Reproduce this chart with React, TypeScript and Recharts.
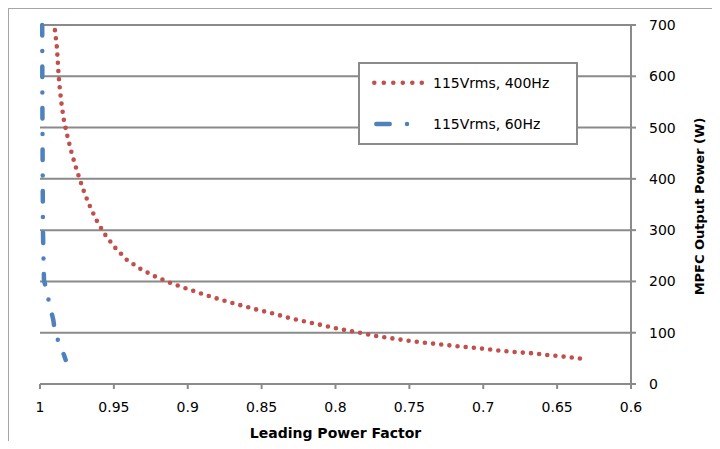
import { LineChart, Line, XAxis, YAxis, CartesianGrid, Legend, Label } from "recharts";

// 115Vrms, 400Hz – leading power factor vs. output power
const redPf = [0.9899, 0.9887, 0.988, 0.9874, 0.9865, 0.9853, 0.9838, 0.9816, 0.9791, 0.9762, 0.973, 0.9696, 0.9657, 0.961, 0.9554, 0.9489, 0.9412, 0.9318, 0.9216, 0.9108, 0.8998, 0.8885, 0.8772, 0.866, 0.8545, 0.843, 0.8316, 0.8201, 0.8086, 0.7971, 0.7853, 0.7735, 0.7617, 0.75, 0.738, 0.7264, 0.7144, 0.7025, 0.6907, 0.6789, 0.6669, 0.6549, 0.6432, 0.6311];
const redPower = [690, 661, 631, 602, 573, 543, 514, 485, 456, 427, 398, 370, 343, 315, 289, 265, 242, 224, 209, 196, 185, 174, 164, 155, 146, 138, 129, 121.5, 114.5, 107, 101, 94, 89, 84, 80, 76.5, 72.7, 69.6, 65.7, 62.4, 60, 56, 52.7, 48.7];

// 115Vrms, 60Hz
const bluePf = [0.9985, 0.9984, 0.9982, 0.998, 0.9976, 0.9973, 0.9953, 0.9932, 0.991, 0.9897, 0.9858, 0.9826];
const bluePower = [700, 560, 420, 300, 240, 203, 178, 151, 125, 97.5, 72.7, 47];

const xTicks = [1, 0.95, 0.9, 0.85, 0.8, 0.75, 0.7, 0.65, 0.6];
const yTicks = [0, 100, 200, 300, 400, 500, 600, 700];

const RED = "#C0504D";
const BLUE = "#4F81BD";
const GRID = "#8a8a8a";

const redData = redPf.map((pf, i) => ({ pf, power: redPower[i] }));
const blueData = bluePf.map((pf, i) => ({ pf, power: bluePower[i] }));

function LegendBox({ payload }: any) {
  const items = payload || [];
  return (
    <svg width={220} height={83}>
      <rect x={1} y={1} width={218} height={81} fill="#fff" stroke={GRID} strokeWidth={2} />
      {items.map((it: any, i: number) => {
        const y = i === 0 ? 20.7 : 62;
        const red = it.color === RED;
        return (
          <g key={i}>
            {red ? (
              <line x1={16.3} x2={64} y1={y} y2={y} stroke={it.color} strokeWidth={4.6}
                    strokeDasharray="0 9.5" strokeLinecap="round" />
            ) : (
              <line x1={18.3} x2={49.5} y1={y} y2={y} stroke={it.color} strokeWidth={4.5}
                    strokeDasharray="13.4 17.3 0 100" strokeLinecap="round" />
            )}
            <text x={75} y={y} dominantBaseline="central" fontSize={14} fill="#000">{it.value}</text>
          </g>
        );
      })}
    </svg>
  );
}

export default function App() {
  return (
    <div style={{ position: "relative", width: 709, height: 433, boxSizing: "border-box",
                  borderTop: "1px solid #a6a6a6", borderLeft: "1px solid #a6a6a6",
                  borderRight: "1px solid #a6a6a6", fontFamily: "DejaVu Sans", background: "#fff" }}>
      <LineChart width={707} height={432} margin={{ top: 16, right: 25, bottom: 27, left: 31 }}>
        <CartesianGrid vertical={false} stroke={GRID} strokeWidth={2} />
        <XAxis type="number" dataKey="pf" domain={[0.6, 1]} reversed ticks={xTicks} allowDataOverflow
               height={30} tickSize={5} tickMargin={13} interval={0}
               axisLine={{ stroke: GRID, strokeWidth: 2 }} tickLine={{ stroke: GRID, strokeWidth: 2 }}
               tick={{ fill: "#000", fontSize: 14 }}>
          <Label content={(p: any) => {
            const vb = p.viewBox || { x: 31, y: 375, width: 591, height: 30 };
            return (
              <text x={vb.x + vb.width / 2} y={vb.y + 49} textAnchor="middle" dominantBaseline="central"
                    fontSize={14} fontWeight="bold" fill="#000">Leading Power Factor</text>
            );
          }} />
        </XAxis>
        <YAxis type="number" orientation="right" domain={[0, 700]} ticks={yTicks} width={60}
               tickSize={5} tickMargin={13} interval={0}
               axisLine={{ stroke: GRID, strokeWidth: 2 }} tickLine={{ stroke: GRID, strokeWidth: 2 }}
               tick={{ fill: "#000", fontSize: 14, textAnchor: "start" }}>
          <Label content={(p: any) => {
            const vb = p.viewBox || { x: 622, y: 16, width: 60, height: 359 };
            const cx = vb.x + 68;
            const cy = vb.y + vb.height / 2 + 2;
            return (
              <text x={cx} y={cy} transform={`rotate(-90, ${cx}, ${cy})`} textAnchor="middle"
                    dominantBaseline="central" fontSize={13} fontWeight="bold" fill="#000">
                MPFC Output Power (W)
              </text>
            );
          }} />
        </YAxis>
        <Legend layout="horizontal" verticalAlign="middle" align="center" content={<LegendBox />}
                wrapperStyle={{ left: 349, top: 53, width: 220, height: 83 }} />
        <Line data={redData} dataKey="power" name="115Vrms, 400Hz" stroke={RED} strokeWidth={4.6}
              strokeDasharray="0 8.2" strokeLinecap="round" dot={false} activeDot={false}
              isAnimationActive={false} />
        <Line data={blueData} dataKey="power" name="115Vrms, 60Hz" stroke={BLUE} strokeWidth={4.5}
              strokeDasharray="10.5 15.5 0 15.5" strokeLinecap="round" dot={false} activeDot={false}
              isAnimationActive={false} />
      </LineChart>
    </div>
  );
}
